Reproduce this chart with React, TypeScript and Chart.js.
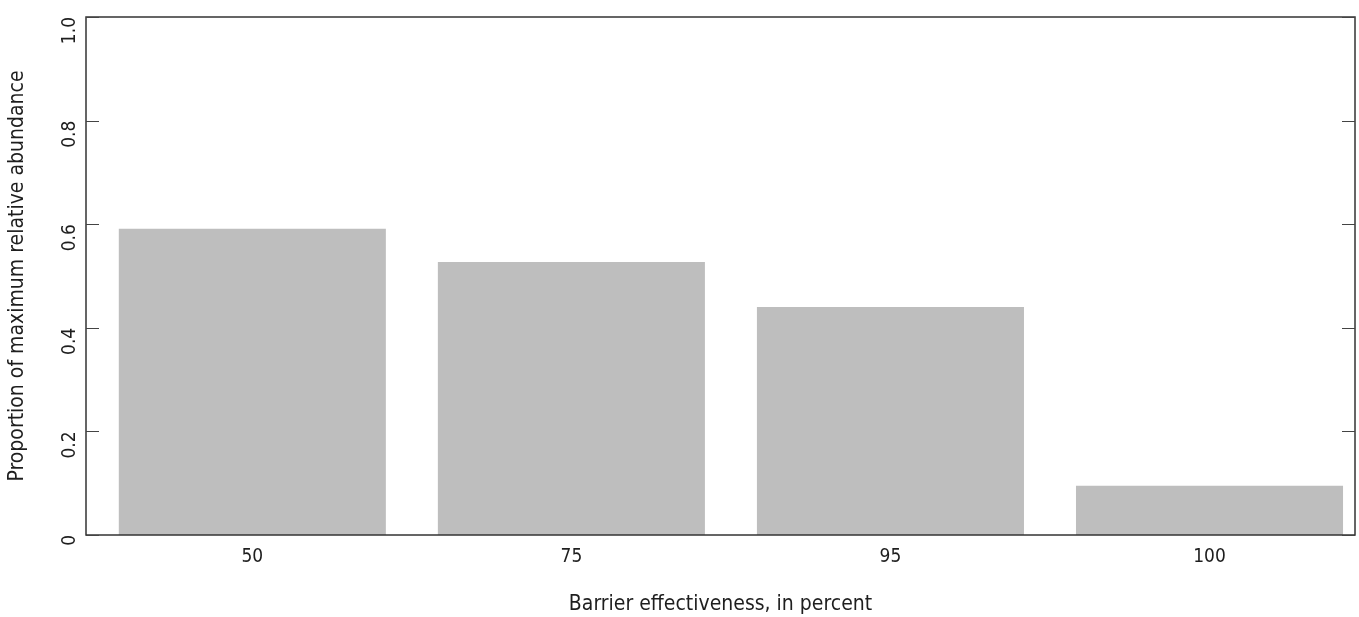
import React, { useEffect, useRef } from "react";
import { Chart, registerables } from "chart.js";

Chart.register(...registerables);

const categories = ["50", "75", "95", "100"];
const positions = [1, 2, 3, 4];
const values = [0.591, 0.527, 0.44, 0.095];
const yTicks = [0, 0.2, 0.4, 0.6, 0.8, 1.0];

const FONT = "'Liberation Sans Narrow', 'DejaVu Sans Condensed', 'Liberation Sans', sans-serif";
const INK = "#1e1e1e";

const frame = {
  id: "frame",
  afterDraw(chart: any) {
    const { ctx, chartArea } = chart;
    const { left, right, top, bottom } = chartArea;
    const y = chart.scales.y;
    ctx.save();
    ctx.strokeStyle = "#333333";
    ctx.lineWidth = 1.5;
    ctx.strokeRect(left, top, right - left, bottom - top);
    ctx.lineWidth = 1.2;
    ctx.strokeStyle = "#444444";
    ctx.beginPath();
    for (const v of yTicks) {
      const py = Math.round(y.getPixelForValue(v)) + 0.5;
      ctx.moveTo(left, py);
      ctx.lineTo(left + 13, py);
      ctx.moveTo(right - 13, py);
      ctx.lineTo(right, py);
    }
    ctx.stroke();
    ctx.restore();
  },
};

export default function App() {
  const ref = useRef<HTMLCanvasElement | null>(null);
  useEffect(() => {
    if (!ref.current) return;
    const chart = new Chart(ref.current, {
      type: "bar",
      data: {
        datasets: [
          {
            data: positions.map((p, i) => ({ x: p, y: values[i] })),
            backgroundColor: "#bebebe",
            borderWidth: 0,
            barPercentage: 0.837,
            categoryPercentage: 1,
          },
        ],
      },
      options: {
        animation: false,
        responsive: false,
        maintainAspectRatio: false,
        layout: { padding: { top: 17, right: 4, left: 0, bottom: 0 } },
        plugins: { legend: { display: false }, tooltip: { enabled: false } },
        scales: {
          x: {
            type: "linear",
            offset: false,
            min: 0.4787,
            max: 4.456,
            grid: { display: false, drawTicks: false, offset: false },
            border: { display: false },
            afterBuildTicks: (scale: any) => {
              scale.ticks = positions.map((p) => ({ value: p }));
            },
            afterFit: (scale: any) => {
              scale.height = 82;
              scale.paddingLeft = 0;
              scale.paddingRight = 0;
            },
            ticks: {
              autoSkip: false,
              maxRotation: 0,
              minRotation: 0,
              padding: 11,
              color: INK,
              font: { family: FONT, size: 19 },
              callback: (v: any) => {
                const i = positions.indexOf(Number(v));
                return i >= 0 ? categories[i] : "";
              },
            },
            title: {
              display: true,
              text: "Barrier effectiveness, in percent",
              color: INK,
              font: { family: FONT, size: 21 },
              padding: { top: 12, bottom: 0 },
            },
          },
          y: {
            type: "linear",
            min: 0,
            max: 1,
            grid: { display: false, drawTicks: false },
            border: { display: false },
            afterBuildTicks: (scale: any) => {
              scale.ticks = yTicks.map((v) => ({ value: v }));
            },
            afterFit: (scale: any) => {
              scale.width = 86;
              scale.paddingTop = 0;
              scale.paddingBottom = 0;
            },
            ticks: {
              autoSkip: false,
              minRotation: 90,
              maxRotation: 90,
              padding: 16,
              color: INK,
              font: { family: FONT, size: 19 },
              callback: (v: any) => (Number(v) === 0 ? "0" : Number(v).toFixed(1)),
            },
            title: {
              display: true,
              text: "Proportion of maximum relative abundance",
              color: INK,
              font: { family: FONT, size: 21 },
              padding: { top: 5, bottom: 0 },
            },
          },
        },
      },
      plugins: [frame],
    });
    return () => chart.destroy();
  }, []);
  return (
    <div style={{ position: "fixed", left: 0, top: 0, width: 1359, height: 617, background: "#fff" }}>
      <canvas ref={ref} width={1359} height={617} style={{ width: 1359, height: 617 }} />
    </div>
  );
}
